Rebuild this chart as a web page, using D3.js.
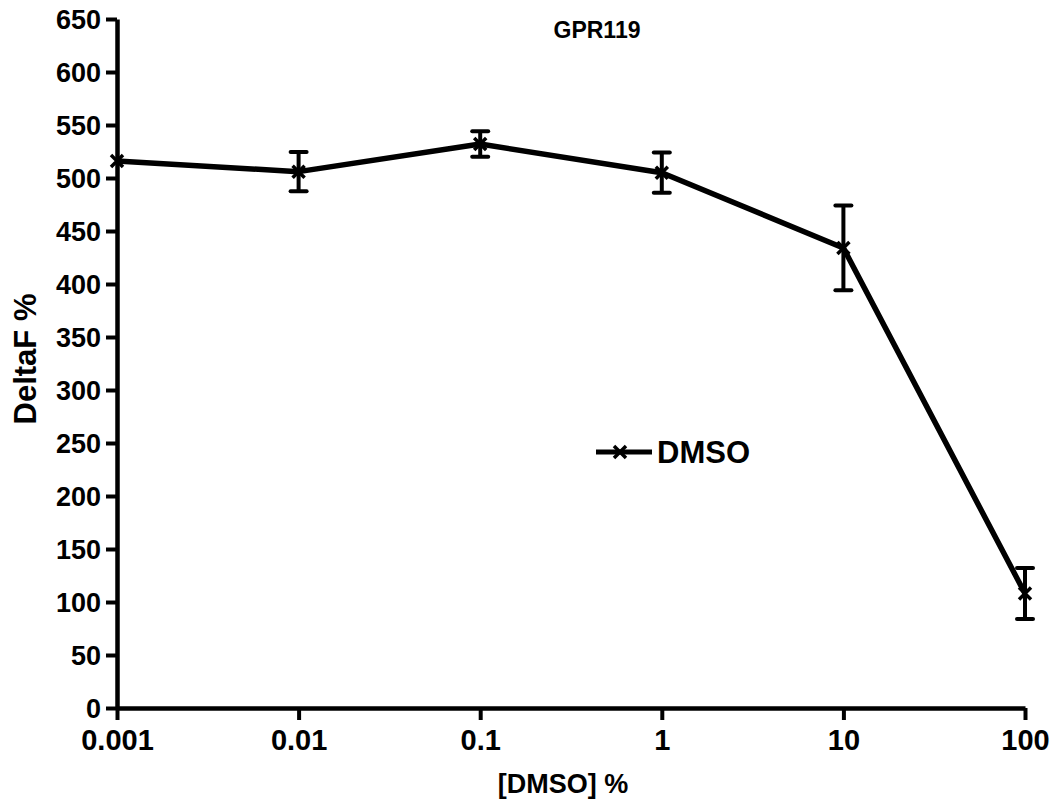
<!DOCTYPE html>
<html>
<head>
<meta charset="utf-8">
<script src="https://cdn.jsdelivr.net/npm/d3@7"></script>
<style>
  html, body { margin: 0; padding: 0; background: #fff; }
  svg { display: block; }
  text { font-family: "Liberation Sans", Arial, sans-serif; font-weight: bold; fill: #000; }
</style>
</head>
<body>
<svg id="chart" width="1055" height="799"></svg>
<script>
// DMSO concentrations (%) and measured response
const concentrations = [0.001, 0.01, 0.1, 1, 10, 100];
const deltaF = [516, 506, 532, 505, 434, 108];
const errors = [0, 18.5, 12, 19, 40, 24];
const xTicks = [0.001, 0.01, 0.1, 1, 10, 100];
const xTickLabels = ["0.001", "0.01", "0.1", "1", "10", "100"];
const yTicks = d3.range(0, 651, 50);

const svg = d3.select("#chart");
const FONT = "'Liberation Sans', Arial, sans-serif";

const x = d3.scaleLog().domain([0.001, 100]).range([117, 1025]);
const y = d3.scaleLinear().domain([0, 650]).range([708, 19]);

const data = concentrations.map((c, i) => ({ c, v: deltaF[i], e: errors[i] }));

// Y axis
const yAxis = svg.append("g")
  .attr("transform", `translate(${x.range()[0]},0)`)
  .call(d3.axisLeft(y).tickValues(yTicks).tickSize(11).tickPadding(5).tickSizeOuter(0));
yAxis.select(".domain").attr("stroke", "#000").attr("stroke-width", 4.5);
yAxis.selectAll(".tick line").attr("stroke", "#000").attr("stroke-width", 4);
yAxis.selectAll(".tick text")
  .style("font-size", "27px").style("font-family", FONT).style("font-weight", "bold")
  .attr("dy", "0.36em");

// X axis
const xAxis = svg.append("g")
  .attr("transform", `translate(0,${y(0)})`)
  .call(d3.axisBottom(x).tickValues(xTicks).tickFormat((d, i) => xTickLabels[i]).tickSize(12).tickPadding(9).tickSizeOuter(0));
xAxis.select(".domain").attr("stroke", "#000").attr("stroke-width", 4.5);
xAxis.selectAll(".tick line").attr("stroke", "#000").attr("stroke-width", 4);
xAxis.selectAll(".tick text")
  .style("font-size", "29px").style("font-family", FONT).style("font-weight", "bold");

// Error bars
const capHalf = 8;
const eb = svg.append("g").attr("stroke", "#000").attr("stroke-width", 4);
data.filter(d => d.e > 0).forEach(d => {
  const cx = x(d.c);
  eb.append("line").attr("x1", cx).attr("x2", cx).attr("y1", y(d.v + d.e)).attr("y2", y(d.v - d.e));
  eb.append("line").attr("x1", cx - capHalf).attr("x2", cx + capHalf).attr("y1", y(d.v + d.e)).attr("y2", y(d.v + d.e)).attr("stroke-linecap", "round");
  eb.append("line").attr("x1", cx - capHalf).attr("x2", cx + capHalf).attr("y1", y(d.v - d.e)).attr("y2", y(d.v - d.e)).attr("stroke-linecap", "round");
});

// Line
svg.append("path")
  .datum(data)
  .attr("fill", "none")
  .attr("stroke", "#000")
  .attr("stroke-width", 5.5)
  .attr("stroke-linejoin", "round")
  .attr("d", d3.line().x(d => x(d.c)).y(d => y(d.v)));

// Cross markers
const crossPath = (cx, cy, r) => `M${cx - r},${cy - r}L${cx + r},${cy + r}M${cx - r},${cy + r}L${cx + r},${cy - r}`;
svg.append("g").selectAll("path")
  .data(data)
  .join("path")
  .attr("d", d => crossPath(x(d.c), y(d.v), 6))
  .attr("stroke", "#000")
  .attr("stroke-width", 3.5)
  .attr("fill", "none");

// Title and axis labels
svg.append("text").attr("x", 597).attr("y", 38).attr("text-anchor", "middle")
  .style("font-size", "23px").text("GPR119");
svg.append("text").attr("x", 563).attr("y", 793).attr("text-anchor", "middle")
  .style("font-size", "27px").text("[DMSO] %");
svg.append("text").attr("transform", "translate(36,359) rotate(-90)").attr("text-anchor", "middle")
  .style("font-size", "31px").text("DeltaF %");

// Legend
const lg = svg.append("g");
lg.append("line").attr("x1", 596).attr("x2", 652).attr("y1", 452).attr("y2", 452)
  .attr("stroke", "#000").attr("stroke-width", 5);
lg.append("path").attr("d", crossPath(620, 452, 6)).attr("stroke", "#000").attr("stroke-width", 3.5);
lg.append("text").attr("x", 657).attr("y", 463).style("font-size", "31px").text("DMSO");
</script>
</body>
</html>
